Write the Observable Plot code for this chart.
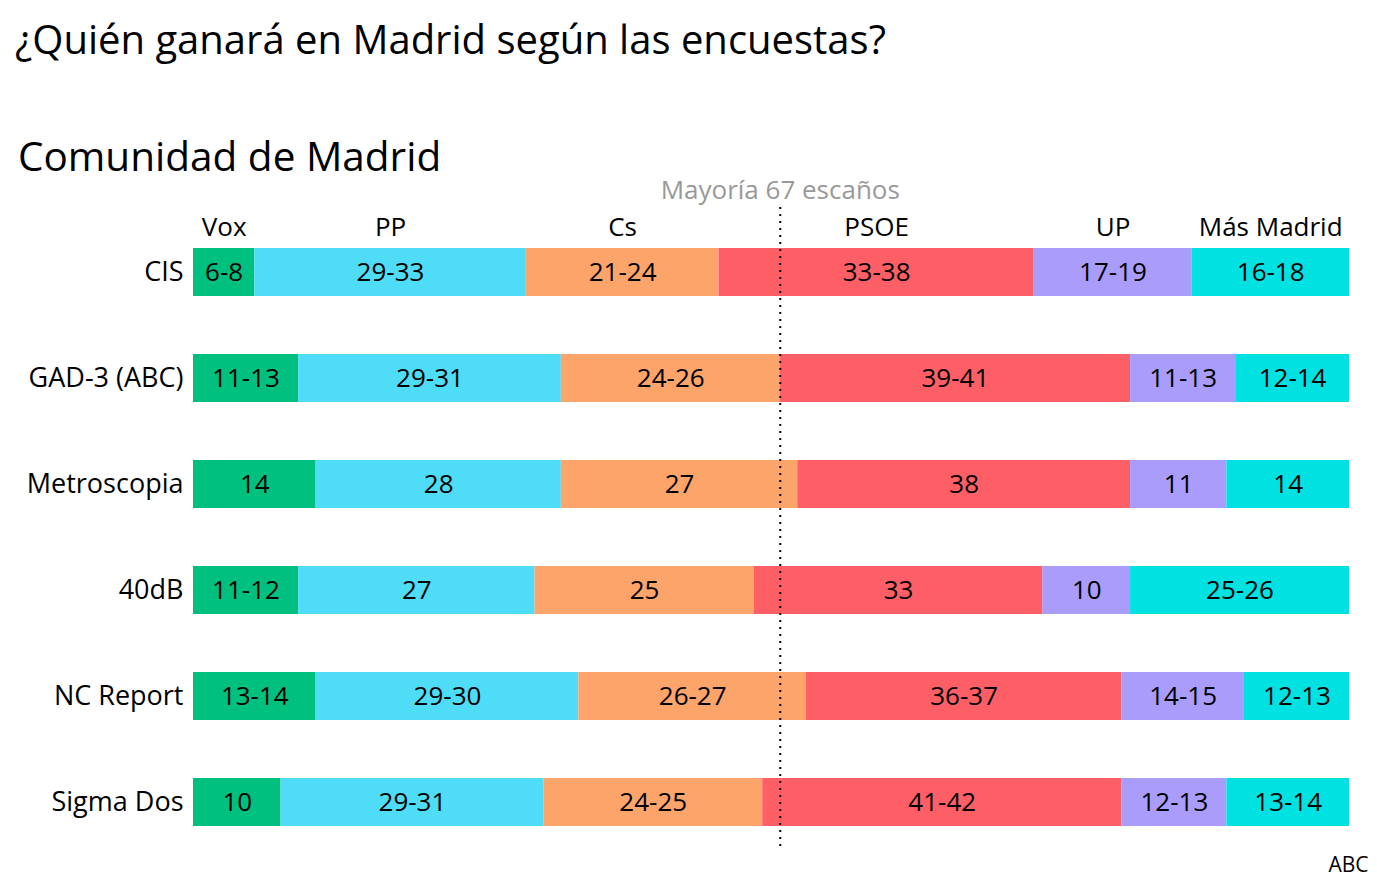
<!DOCTYPE html>
<html>
<head>
<meta charset="utf-8">
<script src="https://cdn.jsdelivr.net/npm/d3@7"></script>
<script src="https://cdn.jsdelivr.net/npm/@observablehq/plot@0.6"></script>
<style>
  html, body { margin: 0; padding: 0; background: #fff; }
  body { width: 1377px; height: 894px; position: relative; overflow: hidden; font-family: "Open Sans", sans-serif; color: #000; }
  .title { position: absolute; left: 15px; top: 19px; font-size: 40px; line-height: 1; white-space: nowrap; }
  .subtitle { position: absolute; left: 18px; top: 136px; font-size: 40.5px; line-height: 1; white-space: nowrap; }
  #chart { position: absolute; left: 0; top: 166px; }
</style>
</head>
<body>
<div class="title">¿Quién ganará en Madrid según las encuestas?</div>
<div class="subtitle">Comunidad de Madrid</div>
<div id="chart"></div>
<script>
const surveys = ["CIS", "GAD-3 (ABC)", "Metroscopia", "40dB", "NC Report", "Sigma Dos"];
const parties = ["Vox", "PP", "Cs", "PSOE", "UP", "Más Madrid"];
const colors = ["#00c07f", "#4fdcf6", "#fca46a", "#fe5f66", "#a99cfb", "#00e2e2"];
// seats drawn (bar widths), one row per survey, in party order
const seats = [
  [7, 31, 22, 36, 18, 18],
  [12, 30, 25, 40, 12, 13],
  [14, 28, 27, 38, 11, 14],
  [12, 27, 25, 33, 10, 25],
  [14, 30, 26, 36, 14, 12],
  [10, 30, 25, 41, 12, 14]
];
// printed labels
const labels = [
  ["6-8", "29-33", "21-24", "33-38", "17-19", "16-18"],
  ["11-13", "29-31", "24-26", "39-41", "11-13", "12-14"],
  ["14", "28", "27", "38", "11", "14"],
  ["11-12", "27", "25", "33", "10", "25-26"],
  ["13-14", "29-30", "26-27", "36-37", "14-15", "12-13"],
  ["10", "29-31", "24-25", "41-42", "12-13", "13-14"]
];
const totalSeats = 132;
const majority = 67;
const majorityLabel = "Mayoría 67 escaños";
const source = "ABC";

const rows = [];
surveys.forEach((s, i) => parties.forEach((p, j) => rows.push({survey: s, party: p, value: seats[i][j], label: labels[i][j]})));
const headerRows = rows.filter(d => d.survey === surveys[0]);

const chart = Plot.plot({
  width: 1377,
  height: 728,
  marginLeft: 193,
  marginRight: 28,
  marginTop: 81,
  marginBottom: 66.5,
  style: {fontFamily: "'Open Sans', sans-serif", fontSize: "27px", color: "#000", background: "transparent", overflow: "visible"},
  x: {domain: [0, totalSeats], axis: null},
  y: {domain: surveys, paddingInner: 0.549, paddingOuter: 0, label: null, tickSize: 0, tickPadding: 10},
  color: {domain: parties, range: colors},
  marks: [
    Plot.barX(rows, Plot.stackX({x: "value", y: "survey", fill: "party", order: null})),
    Plot.ruleX([majority], {x: d => d, stroke: "#000", strokeWidth: 2, strokeDasharray: "2,5", insetTop: -40, insetBottom: -22}),
    Plot.text(rows, Plot.stackX({x: "value", y: "survey", z: "party", text: "label", fill: "#000", fontSize: 26, order: null})),
    Plot.text(headerRows, Plot.stackX({x: "value", z: "party", text: "party", fill: "#000", fontSize: 26, frameAnchor: "top", lineAnchor: "middle", dy: -20, order: null})),
    Plot.text([majority], {x: d => d, text: () => majorityLabel, frameAnchor: "top", lineAnchor: "middle", dy: -57, fill: "#999", fontSize: 26}),
    Plot.text([source], {text: d => d, frameAnchor: "bottom-right", lineAnchor: "middle", textAnchor: "end", dx: 19, dy: 37, fill: "#000", fontSize: 21})
  ]
});
document.getElementById("chart").appendChild(chart);
</script>
</body>
</html>
